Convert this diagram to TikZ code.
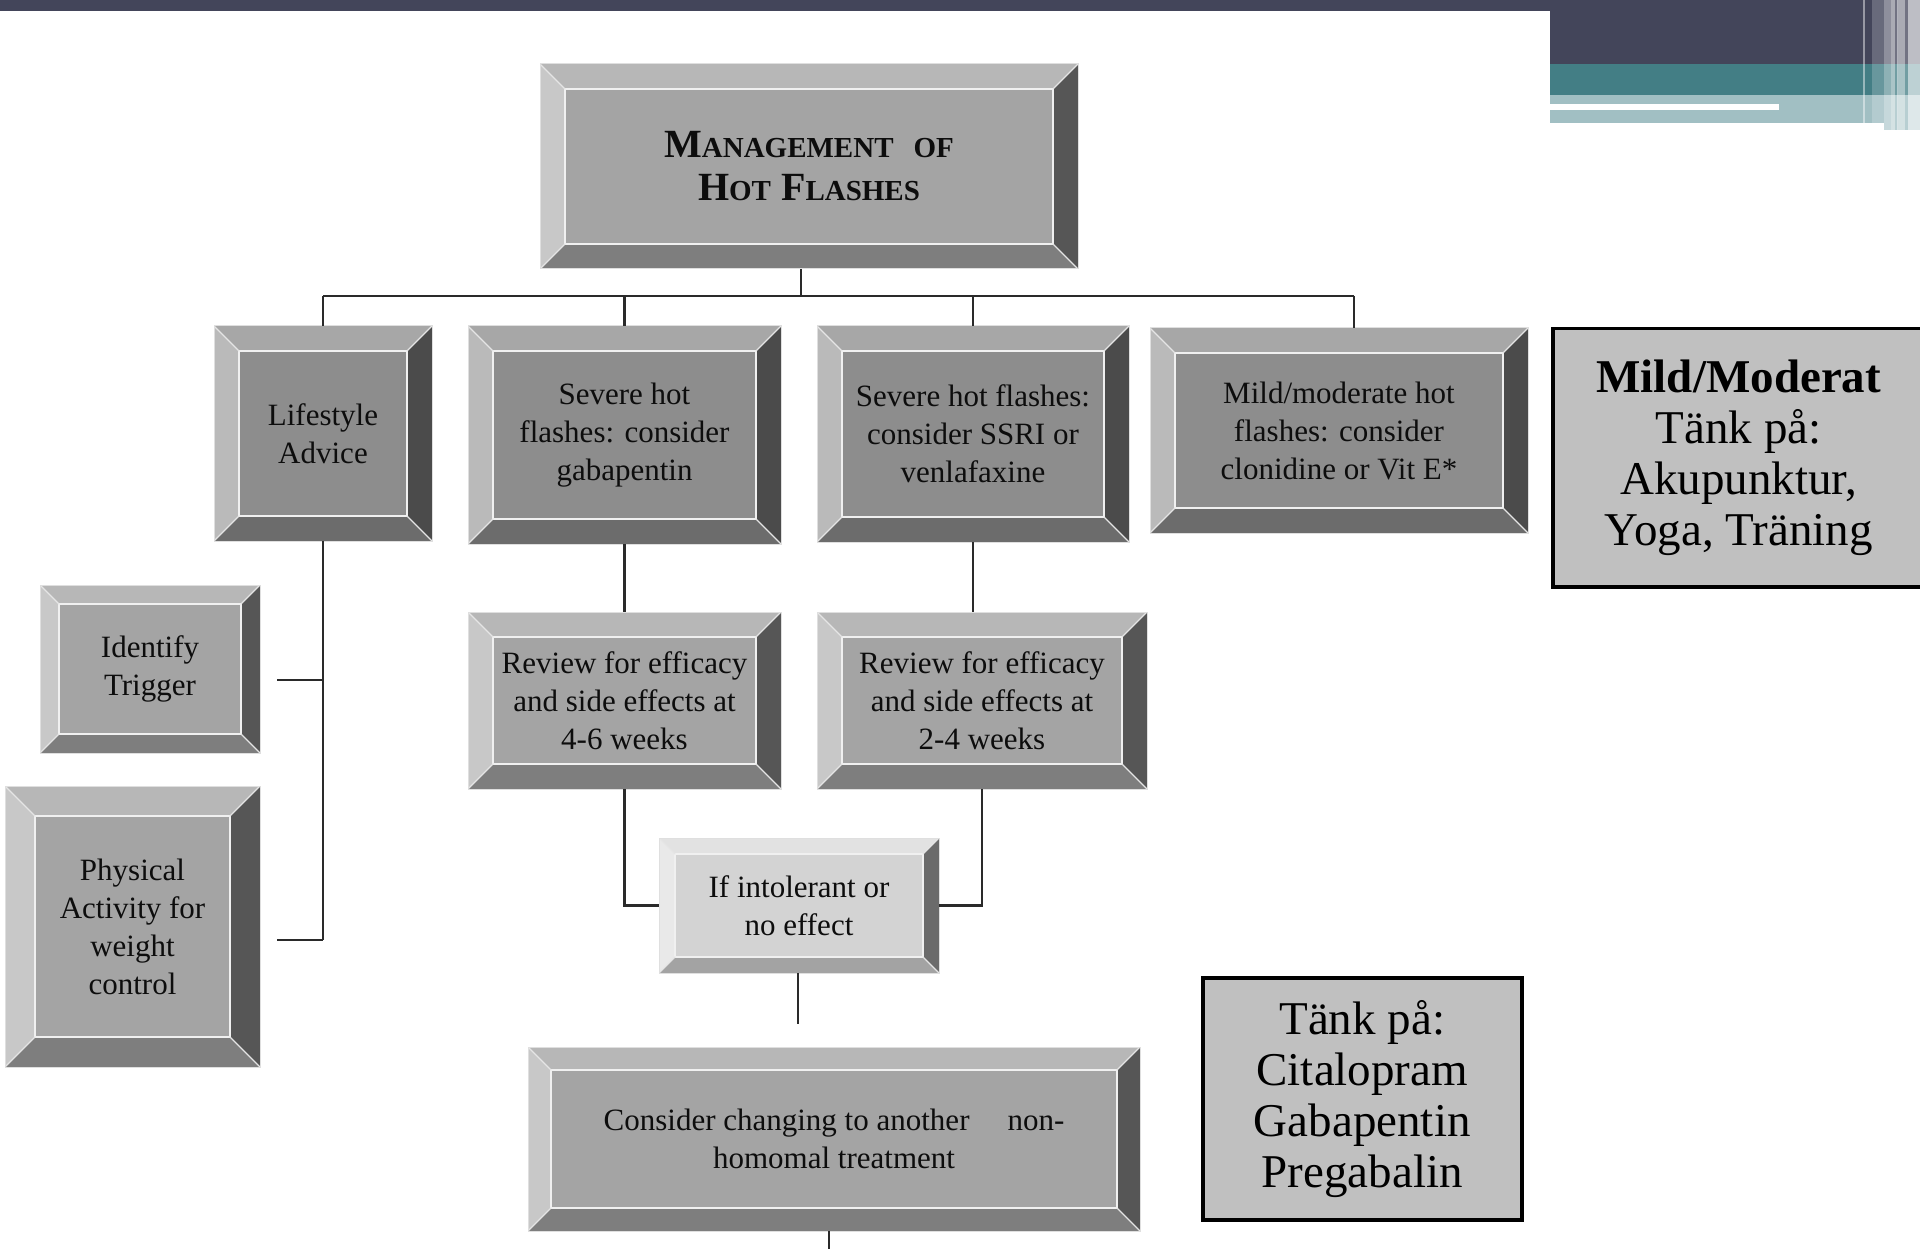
\documentclass[tikz,border=0pt]{standalone}
\usepackage{fontspec}
\setmainfont{Liberation Serif}
\usetikzlibrary{calc}
\definecolor{faceD}{HTML}{8D8D8D}\definecolor{topD}{HTML}{A7A7A7}\definecolor{leftD}{HTML}{BABABA}\definecolor{botD}{HTML}{6C6C6C}\definecolor{rightD}{HTML}{4B4B4B}
\definecolor{faceM}{HTML}{A4A4A4}\definecolor{topM}{HTML}{B7B7B7}\definecolor{leftM}{HTML}{C8C8C8}\definecolor{botM}{HTML}{7E7E7E}\definecolor{rightM}{HTML}{565656}
\definecolor{faceL}{HTML}{D3D3D3}\definecolor{topL}{HTML}{E2E2E2}\definecolor{leftL}{HTML}{E9E9E9}\definecolor{botL}{HTML}{A3A3A3}\definecolor{rightL}{HTML}{6B6B6B}
\definecolor{barDark}{HTML}{43455A}\definecolor{barTeal}{HTML}{437E85}\definecolor{barLight}{HTML}{A1BFC3}
\definecolor{noteFill}{HTML}{C0C0C0}\definecolor{connCol}{HTML}{2A2A2A}
\newcommand\mysc[1]{{\fontsize{29}{43}\selectfont #1}}
\tikzset{
  bvw/.store in=\bvw, bvw=25pt,
  bvT/.store in=\bvT, bvL/.store in=\bvL, bvB/.store in=\bvB, bvR/.store in=\bvR,
  darkbev/.style={fill=faceD, bvT=topD, bvL=leftD, bvB=botD, bvR=rightD},
  midbev/.style={fill=faceM, bvT=topM, bvL=leftM, bvB=botM, bvR=rightM},
  lightbev/.style={fill=faceL, bvT=topL, bvL=leftL, bvB=botL, bvR=rightL},
  bevbox/.style={anchor=north west, inner sep=0pt, outer sep=0pt, align=center,
    text=black!95, font=\fontsize{31}{38}\selectfont,
    draw=gray!25, line width=1pt,
    path picture={
      \coordinate (pNW) at (path picture bounding box.north west);
      \coordinate (pNE) at (path picture bounding box.north east);
      \coordinate (pSW) at (path picture bounding box.south west);
      \coordinate (pSE) at (path picture bounding box.south east);
      \coordinate (iNW) at ([xshift=\bvw,yshift=-\bvw]pNW);
      \coordinate (iNE) at ([xshift=-\bvw,yshift=-\bvw]pNE);
      \coordinate (iSW) at ([xshift=\bvw,yshift=\bvw]pSW);
      \coordinate (iSE) at ([xshift=-\bvw,yshift=\bvw]pSE);
      \fill[fill=\bvT] (pNW) -- (pNE) -- (iNE) -- (iNW) -- cycle;
      \fill[fill=\bvL] (pNW) -- (iNW) -- (iSW) -- (pSW) -- cycle;
      \fill[fill=\bvB] (pSW) -- (iSW) -- (iSE) -- (pSE) -- cycle;
      \fill[fill=\bvR] (pNE) -- (pSE) -- (iSE) -- (iNE) -- cycle;
      \draw[white!88!gray, line width=1.5pt] (iNW) rectangle (iSE);
      \draw[white!80!gray, line width=1.2pt] (pNW) -- (iNW) (pNE) -- (iNE) (pSW) -- (iSW) (pSE) -- (iSE);
    }},
  notebox/.style={anchor=north west, fill=noteFill, draw=black, line width=3.5pt,
    align=center, inner sep=0pt, font=\fontsize{47}{51}\selectfont},
  conn/.style={draw=connCol, line width=2.5pt}
}
\begin{document}
\begin{tikzpicture}[x=1pt,y=-1pt]
\useasboundingbox (0,0) rectangle (1920,1249);
\fill[white] (0,0) rectangle (1920,1249);
% top decoration
\fill[barDark] (0,0) rectangle (1920,11);
\fill[barDark] (1550,0) rectangle (1920,64);
\fill[barTeal] (1550,64) rectangle (1920,95);
\fill[barLight] (1550,95) rectangle (1920,123);
\fill[barLight] (1884,123) rectangle (1920,130);
\fill[white] (1550,104) rectangle (1779,110);
\fill[white,opacity=0.45] (1863,0) rectangle (1865,123);
\fill[white,opacity=0.2] (1872,0) rectangle (1884,123);
\fill[white,opacity=0.4] (1884,0) rectangle (1891,130);
\fill[white,opacity=0.55] (1891,0) rectangle (1895,130);
\fill[white,opacity=0.25] (1895,0) rectangle (1897,130);
\fill[white,opacity=0.6] (1897,0) rectangle (1898,130);
\fill[white,opacity=0.55] (1898,0) rectangle (1905,130);
\fill[white,opacity=0.25] (1905,0) rectangle (1908,130);
\fill[white,opacity=0.65] (1908,0) rectangle (1920,130);

% boxes
\node[bevbox, midbev, minimum width=538, minimum height=205,
      font={\bfseries\fontsize{40}{43}\selectfont}] (title) at (540,64)
  {M\mysc{ANAGEMENT}\ \ \mysc{OF}\\H\mysc{OT} F\mysc{LASHES}};
\node[bevbox, darkbev, minimum width=218, minimum height=215] (life) at (214,326) {Lifestyle\\Advice};
\node[bevbox, darkbev, minimum width=313, minimum height=218] (gaba) at (468,326) {Severe hot\\flashes: consider\\gabapentin};
\node[bevbox, darkbev, minimum width=312, minimum height=216] (ssri) at (817,326) {Severe hot flashes:\\consider SSRI or\\venlafaxine};
\node[bevbox, darkbev, minimum width=378, minimum height=205] (mild) at (1150,328) {Mild/moderate hot\\flashes: consider\\clonidine or Vit E*};
\node[bevbox, midbev, bvw=19pt, minimum width=220, minimum height=168] (ident) at (40,585) {Identify\\Trigger};
\node[bevbox, midbev, bvw=30pt, minimum width=255, minimum height=281] (phys) at (5,786) {Physical\\Activity for\\weight\\control};
\node[bevbox, midbev, minimum width=313, minimum height=177] (rev1) at (468,612) {Review for efficacy\\and side effects at\\4-6 weeks};
\node[bevbox, midbev, minimum width=330, minimum height=177] (rev2) at (817,612) {Review for efficacy\\and side effects at\\2-4 weeks};
\node[bevbox, lightbev, bvw=16pt, minimum width=280, minimum height=135] (intol) at (659,838) {If intolerant or\\no effect};
\node[bevbox, midbev, bvw=23pt, minimum width=612, minimum height=184] (final) at (528,1047) {Consider changing to another\hspace{38pt}non-\\homomal treatment};

\node[notebox, minimum width=372, minimum height=258] (note1) at (1551,327)
  {\textbf{Mild/Moderat}\\Tänk på:\\Akupunktur,\\Yoga, Träning};
\node[notebox, minimum width=319, minimum height=242] (note2) at (1201,976)
  {Tänk på:\\Citalopram\\Gabapentin\\Pregabalin};

% connectors
\coordinate (busL) at (323,296);
\coordinate (busR) at (1354,296);
\coordinate (tdrop) at (801,269);
\draw[conn] (busL) -- (busR);
\draw[conn] (tdrop) -- (tdrop |- busL);
\draw[conn] (life.north) -- (life.north |- busL);
\draw[conn] (gaba.north) -- (gaba.north |- busL);
\draw[conn] (ssri.north) -- (ssri.north |- busL);
\draw[conn] (busR) -- (busR |- mild.north);

\coordinate (lifeEnd) at (323,940);
\coordinate (stubA) at (277,680);
\coordinate (stubB) at (277,940);
\draw[conn] (life.south) -- (lifeEnd);
\draw[conn] (stubA) -- (stubA -| lifeEnd);
\draw[conn] (stubB) -- (lifeEnd);

\draw[conn] (gaba.south) -- (gaba.south |- rev1.north);
\draw[conn] (ssri.south) -- (ssri.south |- rev2.north);
\draw[conn] (rev1.south) |- (intol.west);
\draw[conn] (rev2.south) |- (intol.east);

\coordinate (iEnd) at (798,1024);
\draw[conn] (intol.south -| iEnd) -- (iEnd);
\coordinate (fEnd) at (829,1249);
\draw[conn] (final.south -| fEnd) -- (fEnd);
\end{tikzpicture}
\end{document}
